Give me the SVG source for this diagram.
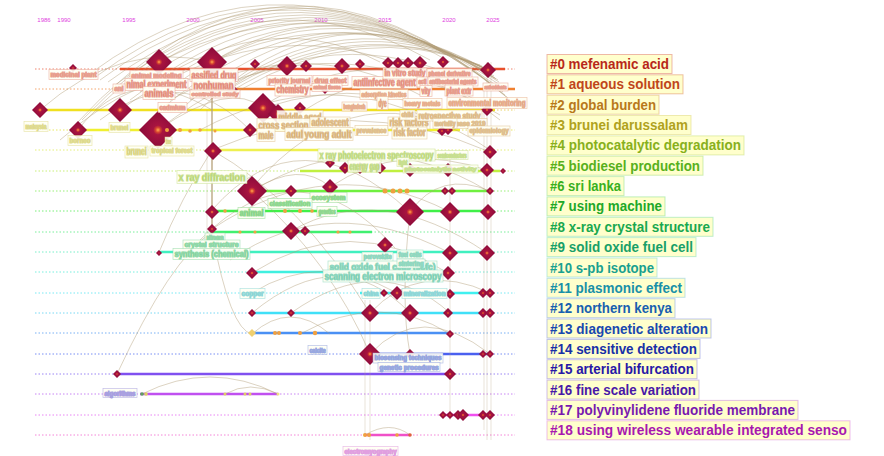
<svg xmlns="http://www.w3.org/2000/svg" width="884" height="456" viewBox="0 0 884 456">
<defs>
<radialGradient id="dg" cx="0.5" cy="0.5" r="0.5">
<stop offset="0" stop-color="#ffb050"/><stop offset="0.06" stop-color="#f07a40"/><stop offset="0.14" stop-color="#d04030"/><stop offset="0.25" stop-color="#a81440"/><stop offset="1" stop-color="#8a0a3a"/>
</radialGradient>
<path id="dm" d="M0,-1 L1,0 L0,1 L-1,0 Z" fill="url(#dg)"/>
</defs>
<style>
text{font-family:"Liberation Sans",Arial,sans-serif}
.arc{fill:none;stroke:#ae9a74;stroke-width:0.8;opacity:0.55}
.vl{stroke:#b8a47e;fill:none}
.dot{fill:none;stroke-width:1;stroke-dasharray:1.5 2;opacity:0.7}
.ln{stroke-width:2.4}
.lg rect{fill:#ffffcc;stroke-width:1;stroke-opacity:0.55}
.lg text{font-size:14px;font-weight:bold}
.lb rect{fill:#fffff4;fill-opacity:0.9;stroke-width:0.7;stroke-opacity:0.7}
.lb text{font-weight:bold}
.yr{font-size:6px;fill:#e040e0;text-anchor:middle}
.sn{fill:#f0a040}
</style>
<rect width="884" height="456" fill="#ffffff"/>
<g id="axis">
<text class="yr" x="44" y="22">1986</text><text class="yr" x="64" y="22">1990</text><text class="yr" x="129" y="22">1995</text><text class="yr" x="193" y="22">2000</text><text class="yr" x="257" y="22">2005</text><text class="yr" x="321" y="22">2010</text><text class="yr" x="385" y="22">2015</text><text class="yr" x="449" y="22">2020</text><text class="yr" x="493" y="22">2025</text>
</g>
<g id="rows">
<path class="dot" stroke="#e85030" d="M35,69H515"/>
<path class="dot" stroke="#f08030" d="M35,89H515"/>
<path class="dot" stroke="#e0c020" d="M35,110H515"/>
<path class="dot" stroke="#e0e020" d="M35,130H515"/>
<path class="dot" stroke="#d8e840" d="M35,150H515"/>
<path class="dot" stroke="#b0e840" d="M35,171H515"/>
<path class="dot" stroke="#70e840" d="M35,191H515"/>
<path class="dot" stroke="#40e840" d="M35,211H515"/>
<path class="dot" stroke="#40e870" d="M35,232H515"/>
<path class="dot" stroke="#40e8b0" d="M35,252H515"/>
<path class="dot" stroke="#40e8d0" d="M35,272H515"/>
<path class="dot" stroke="#40e0f0" d="M35,293H515"/>
<path class="dot" stroke="#40c8f0" d="M35,313H515"/>
<path class="dot" stroke="#4090f0" d="M35,333H515"/>
<path class="dot" stroke="#4060f0" d="M35,354H515"/>
<path class="dot" stroke="#7050f0" d="M35,374H515"/>
<path class="dot" stroke="#b050f0" d="M35,394H515"/>
<path class="dot" stroke="#e050f0" d="M35,415H515"/>
<path class="dot" stroke="#f050c8" d="M35,435H515"/>
<path class="ln" stroke="#e8502c" d="M120,69H505"/>
<path class="ln" stroke="#f08030" d="M200,89H515"/>
<path class="ln" stroke="#f0e020" d="M40,110H495"/>
<path class="ln" stroke="#f0f030" d="M78,130H460"/>
<path class="ln" stroke="#eef050" d="M212,150H320"/>
<path class="ln" stroke="#c0f040" d="M300,171H500"/>
<path class="ln" stroke="#70f040" d="M250,191H490"/>
<path class="ln" stroke="#40f048" d="M212,211H490"/>
<path class="ln" stroke="#40f070" d="M212,232H372"/>
<path class="ln" stroke="#40f0c0" d="M158,252H490"/>
<path class="ln" stroke="#40f0e0" d="M252,272H448"/>
<path class="ln" stroke="#40f0f0" d="M360,293H490"/>
<path class="ln" stroke="#40e0f8" d="M250,313H490"/>
<path class="ln" stroke="#4a90f4" d="M250,333H448"/>
<path class="ln" stroke="#4a60f0" d="M370,354H490"/>
<path class="ln" stroke="#8050f0" d="M117,374H448"/>
<path class="ln" stroke="#c050f0" stroke-width="1.6" d="M140,394H278"/>
<path class="ln" stroke="#f050f0" d="M443,415H490"/>
<path class="ln" stroke="#f050c8" stroke-width="1.6" d="M365,435H410"/>
</g>
<g id="connectors">
<path class="arc" d="M75,125 Q280,-100 510,100"/>
<path class="arc" d="M82,120 Q285,-92 508,98"/>
<path class="arc" d="M88,75 Q290,-75 505,95"/>
<path class="arc" d="M94,78 Q292,-70 503,92"/>
<path class="arc" d="M100,80 Q295,-65 500,90"/>
<path class="arc" d="M108,82 Q298,-60 500,88"/>
<path class="arc" d="M115,85 Q300,-55 500,85"/>
<path class="arc" d="M122,88 Q302,-50 499,82"/>
<path class="arc" d="M130,90 Q305,-45 498,80"/>
<path class="arc" d="M140,92 Q308,-40 496,79"/>
<path class="arc" d="M150,95 Q310,-35 495,78"/>
<path class="arc" d="M155,100 Q315,-30 494,76"/>
<path class="arc" d="M160,110 Q320,-25 492,75"/>
<path class="arc" d="M180,110 Q325,-22 491,74"/>
<path class="arc" d="M200,110 Q330,-20 490,72"/>
<path class="arc" d="M210,100 Q340,-5 488,70"/>
<path class="arc" d="M215,98 Q345,2 486,69"/>
<path class="arc" d="M220,95 Q350,10 485,68"/>
<path class="arc" d="M230,92 Q355,15 482,66"/>
<path class="arc" d="M240,90 Q360,20 480,65"/>
<path class="arc" d="M158,130 Q300,20 440,70"/>
<path class="arc" d="M120,110 Q260,10 400,65"/>
<path class="arc" d="M212,62 Q330,-10 450,62"/>
<path class="arc" d="M212,62 Q340,0 488,70"/>
<path class="arc" d="M159,62 Q320,-20 488,70"/>
<path class="arc" d="M260,108 Q380,30 490,110"/>
<path class="arc" d="M290,120 Q400,40 500,120"/>
<path class="arc" d="M95,110 Q250,-40 430,60"/>
<path class="arc" d="M130,100 Q260,0 380,62"/>
<path class="arc" d="M170,100 Q300,30 420,95"/>
<path class="arc" d="M190,100 Q340,20 500,115"/>
<path class="arc" d="M200,130 Q330,60 450,130"/>
<path class="arc" d="M263,108 Q380,70 470,130"/>
<path class="arc" d="M158,130 Q230,80 263,108"/>
<path class="arc" d="M100,120 Q180,60 250,130"/>
<path class="arc" d="M40,110 Q120,40 212,62"/>
<path class="arc" d="M78,130 Q130,60 212,110"/>
<path class="arc" d="M60,140 Q140,70 200,80"/>
<path class="arc" d="M250,190 Q360,60 490,150"/>
<path class="arc" d="M212,210 Q300,110 410,212"/>
<path class="arc" d="M252,191 Q370,120 488,191"/>
<path class="arc" d="M212,150 Q350,90 490,152"/>
<path class="arc" d="M212,229 Q330,150 450,212"/>
<path class="arc" d="M410,212 Q440,170 490,191"/>
<path class="arc" d="M252,191 Q300,160 330,187"/>
<path class="arc" d="M330,187 Q400,140 490,171"/>
<path class="arc" d="M291,231 Q380,180 487,253"/>
<path class="arc" d="M200,240 Q300,140 395,248"/>
<path class="arc" d="M230,260 Q330,190 450,253"/>
<path class="arc" d="M252,273 Q350,210 448,273"/>
<path class="arc" d="M370,313 Q420,260 490,293"/>
<path class="arc" d="M291,313 Q380,250 450,313"/>
<path class="arc" d="M252,313 Q340,240 410,313"/>
<path class="arc" d="M252,293 Q320,250 397,293"/>
<path class="arc" d="M370,354 Q420,300 490,354"/>
<path class="arc" d="M300,334 Q380,290 450,334"/>
<path class="arc" d="M252,334 Q290,300 330,334"/>
<path class="arc" d="M117,374 Q170,260 212,232"/>
<path class="arc" d="M212,232 Q230,330 252,334"/>
<path class="arc" d="M142,394 Q210,360 278,394"/>
<path class="arc" d="M225,394 Q250,380 278,394"/>
<path class="arc" d="M365,435 Q390,420 410,435"/>
<path class="arc" d="M160,250 Q180,200 212,150"/>
<path class="arc" d="M212,150 Q300,200 370,313"/>
<path class="arc" d="M252,191 Q330,260 370,354"/>
<path class="arc" d="M410,212 Q400,300 410,354"/>
<path class="vl" stroke-width="1.8" opacity="0.75" d="M212,62V258"/>
<path class="vl" stroke-width="0.6" opacity="0.5" d="M487,62V440M491,62V440M484,90V430M450,150V420M370,300V440M365,300V435M207,110V240"/>
</g>
<g id="cluster-0">
<use href="#dm" transform="translate(73,68) scale(4)"/>
<use href="#dm" transform="translate(159,62) scale(13)"/>
<use href="#dm" transform="translate(212,62) scale(15)"/>
<use href="#dm" transform="translate(255,64) scale(5)"/>
<use href="#dm" transform="translate(287,66) scale(10)"/>
<use href="#dm" transform="translate(306,66) scale(6)"/>
<use href="#dm" transform="translate(342,66) scale(8)"/>
<use href="#dm" transform="translate(360,64) scale(5)"/>
<use href="#dm" transform="translate(388,63) scale(6)"/>
<use href="#dm" transform="translate(398,63) scale(6)"/>
<use href="#dm" transform="translate(408,63) scale(6)"/>
<use href="#dm" transform="translate(420,63) scale(7)"/>
<use href="#dm" transform="translate(443,62) scale(6)"/>
<use href="#dm" transform="translate(488,70) scale(8)"/>
</g>
<g id="cluster-1">
<use href="#dm" transform="translate(232,90) scale(6)"/>
<use href="#dm" transform="translate(325,90) scale(4)"/>
</g>
<g id="cluster-2">
<use href="#dm" transform="translate(40,110) scale(8)"/>
<use href="#dm" transform="translate(120,110) scale(12)"/>
<use href="#dm" transform="translate(263,108) scale(15)"/>
<use href="#dm" transform="translate(278,114) scale(10)"/>
<use href="#dm" transform="translate(300,108) scale(6)"/>
<use href="#dm" transform="translate(487,110) scale(6)"/>
</g>
<g id="cluster-3">
<use href="#dm" transform="translate(78,130) scale(9)"/>
<use href="#dm" transform="translate(158,130) scale(19)"/>
<use href="#dm" transform="translate(250,130) scale(7)"/>
<use href="#dm" transform="translate(442,131) scale(5)"/>
<use href="#dm" transform="translate(448,130) scale(5)"/>
<circle class="sn" cx="167" cy="130" r="2"/><circle class="sn" cx="180" cy="130" r="2"/><circle class="sn" cx="190" cy="131" r="1.8"/><circle class="sn" cx="200" cy="130" r="1.8"/><circle class="sn" cx="215" cy="131" r="1.5"/>
</g>
<g id="cluster-4">
<use href="#dm" transform="translate(213,151) scale(9)"/>
<use href="#dm" transform="translate(490,152) scale(7)"/>
<use href="#dm" transform="translate(330,163) scale(5)"/>
</g>
<g id="cluster-5">
<use href="#dm" transform="translate(345,168) scale(6)"/>
<use href="#dm" transform="translate(360,168) scale(6)"/>
<use href="#dm" transform="translate(380,168) scale(6)"/>
<use href="#dm" transform="translate(410,170) scale(7)"/>
<use href="#dm" transform="translate(448,170) scale(7)"/>
<use href="#dm" transform="translate(487,170) scale(7)"/>
<use href="#dm" transform="translate(503,171) scale(3)"/>
</g>
<g id="cluster-6">
<use href="#dm" transform="translate(252,191) scale(15)"/>
<use href="#dm" transform="translate(291,191) scale(6)"/>
<use href="#dm" transform="translate(330,187) scale(8)"/>
<use href="#dm" transform="translate(445,191) scale(4)"/>
<use href="#dm" transform="translate(452,191) scale(4)"/>
<use href="#dm" transform="translate(490,191) scale(4)"/>
<circle class="sn" cx="385" cy="191" r="2.5"/><circle class="sn" cx="393" cy="191" r="2.5"/><circle class="sn" cx="400" cy="191" r="2.5"/><circle class="sn" cx="407" cy="191" r="2.5"/>
</g>
<g id="cluster-7">
<use href="#dm" transform="translate(212,212) scale(7)"/>
<use href="#dm" transform="translate(410,212) scale(14)"/>
<use href="#dm" transform="translate(450,212) scale(10)"/>
<use href="#dm" transform="translate(488,212) scale(8)"/>
<circle class="sn" cx="225" cy="211" r="1.8"/><circle class="sn" cx="285" cy="211" r="2"/><circle class="sn" cx="300" cy="211" r="2"/><circle class="sn" cx="312" cy="211" r="1.8"/>
</g>
<g id="cluster-8">
<use href="#dm" transform="translate(212,229) scale(5)"/>
<use href="#dm" transform="translate(291,231) scale(9)"/>
<use href="#dm" transform="translate(305,231) scale(5)"/>
<circle class="sn" cx="240" cy="232" r="1.6"/><circle class="sn" cx="255" cy="232" r="1.6"/><circle class="sn" cx="338" cy="232" r="1.6"/><circle class="sn" cx="350" cy="232" r="1.6"/>
</g>
<g id="cluster-9">
<use href="#dm" transform="translate(159,253) scale(3)"/>
<use href="#dm" transform="translate(385,245) scale(8)"/>
<use href="#dm" transform="translate(450,253) scale(8)"/>
<use href="#dm" transform="translate(487,253) scale(8)"/>
</g>
<g id="cluster-10">
<use href="#dm" transform="translate(252,273) scale(6)"/>
<use href="#dm" transform="translate(448,273) scale(7)"/>
</g>
<g id="cluster-11">
<use href="#dm" transform="translate(384,293) scale(4)"/>
<use href="#dm" transform="translate(397,293) scale(7)"/>
<use href="#dm" transform="translate(450,294) scale(5)"/>
<use href="#dm" transform="translate(483,293) scale(5)"/>
<use href="#dm" transform="translate(490,293) scale(5)"/>
</g>
<g id="cluster-12">
<use href="#dm" transform="translate(252,313) scale(4)"/>
<use href="#dm" transform="translate(291,313) scale(4)"/>
<use href="#dm" transform="translate(370,313) scale(9)"/>
<use href="#dm" transform="translate(410,313) scale(9)"/>
<use href="#dm" transform="translate(448,313) scale(5)"/>
<use href="#dm" transform="translate(483,313) scale(5)"/>
<use href="#dm" transform="translate(490,313) scale(5)"/>
</g>
<g id="cluster-13">
<path d="M252,329 L256,333 L252,337 L248,333Z" fill="#f0d070"/>
<circle class="sn" cx="275" cy="333" r="2"/><circle class="sn" cx="279" cy="333" r="2"/><circle class="sn" cx="300" cy="333" r="2"/><circle class="sn" cx="315" cy="333" r="2.2"/>
<use href="#dm" transform="translate(450,334) scale(4)"/>
</g>
<g id="cluster-14">
<use href="#dm" transform="translate(370,354) scale(11)"/>
<use href="#dm" transform="translate(410,354) scale(5)"/>
<use href="#dm" transform="translate(483,354) scale(4)"/>
<use href="#dm" transform="translate(490,354) scale(4)"/>
</g>
<g id="cluster-15">
<use href="#dm" transform="translate(117,374) scale(4)"/>
<use href="#dm" transform="translate(450,374) scale(6)"/>
</g>
<g id="cluster-16">
<circle cx="142" cy="394" r="1.8" fill="#60a060"/><circle cx="146" cy="394" r="1.8" fill="#e0d060"/><circle cx="225" cy="394" r="1.5" fill="#e0d060"/><circle cx="245" cy="394" r="1.5" fill="#e0d060"/><circle cx="250" cy="394" r="1.5" fill="#e0d060"/><circle cx="278" cy="394" r="1.5" fill="#f0e080"/>
</g>
<g id="cluster-17">
<use href="#dm" transform="translate(443,415) scale(4)"/>
<use href="#dm" transform="translate(450,415) scale(4)"/>
<use href="#dm" transform="translate(458,415) scale(5)"/>
<use href="#dm" transform="translate(463,415) scale(6)"/>
<use href="#dm" transform="translate(483,415) scale(5)"/>
<use href="#dm" transform="translate(490,415) scale(5)"/>
</g>
<g id="cluster-18">
<circle class="sn" cx="365" cy="435" r="2"/><circle class="sn" cx="369" cy="435" r="2"/><circle class="sn" cx="397" cy="435" r="1.8"/><circle cx="410" cy="435" r="1.8" fill="#e06040"/>
</g>
<g id="labels">
<g class="lb" fill="#c8321e" stroke="#e8a090">
<rect x="49" y="69.5" width="49" height="10"/><text x="50.5" y="76.8" font-size="8" textLength="46" lengthAdjust="spacingAndGlyphs">medicinal plant</text>
<rect x="130" y="70.5" width="53" height="10"/><text x="131.5" y="77.8" font-size="8" textLength="50" lengthAdjust="spacingAndGlyphs">animal modeling</text>
<rect x="190" y="68.5" width="48" height="13"/><text x="191.5" y="78.8" font-size="11" textLength="45" lengthAdjust="spacingAndGlyphs">assified drug</text>
<rect x="125" y="78.5" width="63" height="12"/><text x="126.5" y="87.5" font-size="10" textLength="60" lengthAdjust="spacingAndGlyphs">nimal experiment</text>
<rect x="113" y="84" width="12" height="9"/><text x="114.5" y="90.5" font-size="7" textLength="9" lengthAdjust="spacingAndGlyphs">ani</text>
<rect x="192" y="78.5" width="43" height="13"/><text x="193.5" y="88.8" font-size="11" textLength="40" lengthAdjust="spacingAndGlyphs">nonhuman</text>
<rect x="190" y="90" width="50" height="8"/><text x="191.5" y="96" font-size="6" textLength="47" lengthAdjust="spacingAndGlyphs">controlled study</text>
<rect x="143" y="86.5" width="32" height="13"/><text x="144.5" y="96.8" font-size="11" textLength="29" lengthAdjust="spacingAndGlyphs">animals</text>
<rect x="158" y="102.5" width="29" height="10"/><text x="159.5" y="109.8" font-size="8" textLength="26" lengthAdjust="spacingAndGlyphs">cadmium</text>
<rect x="267" y="75.5" width="45" height="10"/><text x="268.5" y="82.8" font-size="8" textLength="42" lengthAdjust="spacingAndGlyphs">priority journal</text>
<rect x="313" y="75.5" width="35" height="10"/><text x="314.5" y="82.8" font-size="8" textLength="32" lengthAdjust="spacingAndGlyphs">drug effect</text>
<rect x="312" y="83.5" width="30" height="8"/><text x="313.5" y="89.1" font-size="6" textLength="27" lengthAdjust="spacingAndGlyphs">animal tissue</text>
<rect x="275" y="84" width="35" height="12"/><text x="276.5" y="93" font-size="10" textLength="32" lengthAdjust="spacingAndGlyphs">chemistry</text>
<rect x="352" y="76.5" width="65" height="12"/><text x="353.5" y="85.5" font-size="10" textLength="62" lengthAdjust="spacingAndGlyphs">antiinfective agent</text>
<rect x="383" y="68" width="44" height="11"/><text x="384.5" y="76.2" font-size="9" textLength="41" lengthAdjust="spacingAndGlyphs">in vitro study</text>
<rect x="427" y="68.5" width="45" height="10"/><text x="428.5" y="75.8" font-size="8" textLength="42" lengthAdjust="spacingAndGlyphs">phenol derivative</text>
<rect x="417" y="77" width="11" height="10"/><text x="418.5" y="84.3" font-size="8" textLength="8" lengthAdjust="spacingAndGlyphs">acti</text>
<rect x="428" y="77" width="50" height="9"/><text x="429.5" y="84" font-size="7" textLength="47" lengthAdjust="spacingAndGlyphs">antibacterial agents</text>
<rect x="420" y="85.5" width="12" height="11"/><text x="421.5" y="94.2" font-size="9" textLength="9" lengthAdjust="spacingAndGlyphs">vity</text>
<rect x="445" y="85" width="28" height="11"/><text x="446.5" y="93.7" font-size="9" textLength="25" lengthAdjust="spacingAndGlyphs">plant extr</text>
<rect x="483" y="83" width="25" height="8"/><text x="484.5" y="89.1" font-size="6" textLength="22" lengthAdjust="spacingAndGlyphs">antioxidants</text>
</g>
<g class="lb" fill="#c0561e" stroke="#e8b090">
<rect x="360" y="89.5" width="48" height="10"/><text x="361.5" y="96.8" font-size="8" textLength="45" lengthAdjust="spacingAndGlyphs">adsorption kinetics</text>
<rect x="377" y="96.5" width="11" height="13"/><text x="378.5" y="106.8" font-size="11" textLength="8" lengthAdjust="spacingAndGlyphs">dye</text>
<rect x="403" y="98.5" width="39" height="10"/><text x="404.5" y="105.8" font-size="8" textLength="36" lengthAdjust="spacingAndGlyphs">heavy metals</text>
<rect x="447" y="97.5" width="80" height="11"/><text x="448.5" y="106.2" font-size="9" textLength="77" lengthAdjust="spacingAndGlyphs">environmental monitoring</text>
<rect x="342" y="102" width="25" height="9"/><text x="343.5" y="108.5" font-size="7" textLength="22" lengthAdjust="spacingAndGlyphs">bangladesh</text>
</g>
<g class="lb" fill="#b87a20" stroke="#e0c090">
<rect x="277" y="110.5" width="46" height="13"/><text x="278.5" y="120.8" font-size="11" textLength="43" lengthAdjust="spacingAndGlyphs">middle aged</text>
<rect x="257" y="118.5" width="53" height="13"/><text x="258.5" y="128.8" font-size="11" textLength="50" lengthAdjust="spacingAndGlyphs">cross section</text>
<rect x="257" y="128.5" width="18" height="13"/><text x="258.5" y="138.8" font-size="11" textLength="15" lengthAdjust="spacingAndGlyphs">male</text>
<rect x="285" y="127.5" width="22" height="13"/><text x="286.5" y="137.8" font-size="11" textLength="19" lengthAdjust="spacingAndGlyphs">adult</text>
<rect x="310" y="117" width="40" height="12"/><text x="311.5" y="126" font-size="10" textLength="37" lengthAdjust="spacingAndGlyphs">adolescent</text>
<rect x="303" y="127.5" width="50" height="13"/><text x="304.5" y="137.8" font-size="11" textLength="47" lengthAdjust="spacingAndGlyphs">young adult</text>
<rect x="355" y="125.5" width="33" height="10"/><text x="356.5" y="132.8" font-size="8" textLength="30" lengthAdjust="spacingAndGlyphs">prevalence</text>
<rect x="388" y="117" width="42" height="12"/><text x="389.5" y="126" font-size="10" textLength="39" lengthAdjust="spacingAndGlyphs">risk factors</text>
<rect x="392" y="127" width="35" height="12"/><text x="393.5" y="136" font-size="10" textLength="32" lengthAdjust="spacingAndGlyphs">risk factor</text>
<rect x="400" y="110" width="15" height="10"/><text x="401.5" y="117.3" font-size="8" textLength="12" lengthAdjust="spacingAndGlyphs">child</text>
<rect x="417" y="110" width="65" height="11"/><text x="418.5" y="118.7" font-size="9" textLength="62" lengthAdjust="spacingAndGlyphs">retrospective study</text>
<rect x="445" y="118.5" width="42" height="10"/><text x="446.5" y="125.8" font-size="8" textLength="39" lengthAdjust="spacingAndGlyphs">disease 2019</text>
<rect x="433" y="118.5" width="24" height="10"/><text x="434.5" y="125.8" font-size="8" textLength="21" lengthAdjust="spacingAndGlyphs">mortality</text>
<rect x="468" y="126" width="42" height="10"/><text x="469.5" y="133.3" font-size="8" textLength="39" lengthAdjust="spacingAndGlyphs">epidemiology</text>
</g>
<g class="lb" fill="#a8a020" stroke="#e0dc90">
<rect x="24" y="121.5" width="24" height="10"/><text x="25.5" y="128.8" font-size="8" textLength="21" lengthAdjust="spacingAndGlyphs">malaysia</text>
<rect x="109" y="122.5" width="21" height="10"/><text x="110.5" y="129.8" font-size="8" textLength="18" lengthAdjust="spacingAndGlyphs">brunei</text>
<rect x="68" y="135.5" width="24" height="10"/><text x="69.5" y="142.8" font-size="8" textLength="21" lengthAdjust="spacingAndGlyphs">borneo</text>
<rect x="125" y="146" width="23" height="12"/><text x="126.5" y="155" font-size="10" textLength="20" lengthAdjust="spacingAndGlyphs">brunei</text>
<rect x="165" y="137" width="7" height="9"/><text x="166" y="143.5" font-size="7" textLength="5" lengthAdjust="spacingAndGlyphs">tree</text>
<rect x="150" y="146" width="44" height="10"/><text x="151.5" y="153.3" font-size="8" textLength="41" lengthAdjust="spacingAndGlyphs">tropical forest</text>
</g>
<g class="lb" fill="#88b020" stroke="#c8e090">
<rect x="318" y="149" width="117" height="12"/><text x="319.5" y="158.5" font-size="10" textLength="114" lengthAdjust="spacingAndGlyphs">x ray photoelectron spectroscopy</text>
<rect x="436" y="150.5" width="32" height="9"/><text x="437.5" y="157.5" font-size="7" textLength="29" lengthAdjust="spacingAndGlyphs">semiconductors</text>
<rect x="348" y="160" width="33" height="12"/><text x="349.5" y="169.5" font-size="10" textLength="30" lengthAdjust="spacingAndGlyphs">energy gap</text>
<rect x="397" y="157.5" width="12" height="9"/><text x="398.5" y="164.5" font-size="7" textLength="9" lengthAdjust="spacingAndGlyphs">light</text>
<rect x="403" y="165" width="75" height="8"/><text x="404.5" y="171.1" font-size="6" textLength="72" lengthAdjust="spacingAndGlyphs">photocatalytic activity</text>
<rect x="177" y="170.5" width="70" height="13"/><text x="178.5" y="180.8" font-size="11" textLength="67" lengthAdjust="spacingAndGlyphs">x ray diffraction</text>
</g>
<g class="lb" fill="#30a838" stroke="#90d890">
<rect x="310" y="192.5" width="37" height="10"/><text x="311.5" y="199.8" font-size="8" textLength="34" lengthAdjust="spacingAndGlyphs">ecosystem</text>
<rect x="268" y="198.5" width="44" height="10"/><text x="269.5" y="205.8" font-size="8" textLength="41" lengthAdjust="spacingAndGlyphs">classification</text>
<rect x="238" y="207.5" width="27" height="11"/><text x="239.5" y="216.2" font-size="9" textLength="24" lengthAdjust="spacingAndGlyphs">animal</text>
<rect x="317" y="206.5" width="20" height="10"/><text x="318.5" y="213.8" font-size="8" textLength="17" lengthAdjust="spacingAndGlyphs">genetics</text>
</g>
<g class="lb" fill="#20a850" stroke="#90d8a8">
<rect x="205" y="233" width="20" height="9"/><text x="206.5" y="240" font-size="7" textLength="17" lengthAdjust="spacingAndGlyphs">nitrogen</text>
<rect x="183" y="240" width="57" height="10"/><text x="184.5" y="247.3" font-size="8" textLength="54" lengthAdjust="spacingAndGlyphs">crystal structure</text>
<rect x="173" y="248.5" width="77" height="11"/><text x="174.5" y="257.2" font-size="9" textLength="74" lengthAdjust="spacingAndGlyphs">synthesis (chemical)</text>
</g>
<g class="lb" fill="#20a070" stroke="#90d8c0">
<rect x="362" y="252" width="31" height="10"/><text x="363.5" y="259.3" font-size="8" textLength="28" lengthAdjust="spacingAndGlyphs">perovskite</text>
<rect x="328" y="261" width="109" height="11"/><text x="329.5" y="269.7" font-size="9" textLength="106" lengthAdjust="spacingAndGlyphs">solid oxide fuel cells (sofc)</text>
<rect x="397" y="250" width="26" height="9"/><text x="398.5" y="257" font-size="7" textLength="23" lengthAdjust="spacingAndGlyphs">fuel cells</text>
<rect x="397" y="259" width="28" height="9"/><text x="398.5" y="266" font-size="7" textLength="25" lengthAdjust="spacingAndGlyphs">sintering</text>
<rect x="323" y="270" width="120" height="12"/><text x="324.5" y="279.5" font-size="10" textLength="117" lengthAdjust="spacingAndGlyphs">scanning electron microscopy</text>
</g>
<g class="lb" fill="#20a0a0" stroke="#90d8d8">
<rect x="240" y="288.5" width="25" height="10"/><text x="241.5" y="295.8" font-size="8" textLength="22" lengthAdjust="spacingAndGlyphs">copper</text>
<rect x="362" y="288.5" width="18" height="10"/><text x="363.5" y="295.8" font-size="8" textLength="15" lengthAdjust="spacingAndGlyphs">china</text>
<rect x="402" y="288.5" width="45" height="10"/><text x="403.5" y="295.8" font-size="8" textLength="42" lengthAdjust="spacingAndGlyphs">mineralization</text>
</g>
<g class="lb" fill="#2040b8" stroke="#98a8e0">
<rect x="308" y="345.5" width="19" height="9"/><text x="309.5" y="352.5" font-size="7" textLength="16" lengthAdjust="spacingAndGlyphs">calcite</text>
<rect x="373" y="353" width="70" height="10"/><text x="374.5" y="360.3" font-size="8" textLength="67" lengthAdjust="spacingAndGlyphs">biosensing techniques</text>
<rect x="378" y="362.5" width="62" height="9"/><text x="379.5" y="369.5" font-size="7" textLength="59" lengthAdjust="spacingAndGlyphs">genetic procedures</text>
</g>
<g class="lb" fill="#4030c0" stroke="#a8a0e0">
<rect x="103" y="388.5" width="34" height="9"/><text x="104.5" y="395.5" font-size="7" textLength="31" lengthAdjust="spacingAndGlyphs">algorithms</text>
</g>
<g class="lb" fill="#c020b0" stroke="#e0a0e0">
<rect x="343" y="446.5" width="55" height="9"/><text x="344.5" y="453.5" font-size="7" textLength="52" lengthAdjust="spacingAndGlyphs">electromyography</text>
</g>
</g>
<g id="legend">
<g class="lg" id="lg0"><rect x="547" y="54.5" width="125" height="19" stroke="#e08070"/><text x="550" y="69" fill="#b8281a" textLength="119" lengthAdjust="spacingAndGlyphs">#0 mefenamic acid</text></g>
<g class="lg" id="lg1"><rect x="547" y="74.8" width="136" height="19" stroke="#e09060"/><text x="550" y="89.3" fill="#c0461a" textLength="130" lengthAdjust="spacingAndGlyphs">#1 aqueous solution</text></g>
<g class="lg" id="lg2"><rect x="547" y="95.2" width="112" height="19" stroke="#e0b070"/><text x="550" y="109.7" fill="#b8781a" textLength="106" lengthAdjust="spacingAndGlyphs">#2 global burden</text></g>
<g class="lg" id="lg3"><rect x="547" y="115.5" width="144" height="19" stroke="#e0d880"/><text x="550" y="130" fill="#b0a21c" textLength="138" lengthAdjust="spacingAndGlyphs">#3 brunei darussalam</text></g>
<g class="lg" id="lg4"><rect x="547" y="135.9" width="197" height="19" stroke="#c8e080"/><text x="550" y="150.4" fill="#88b01c" textLength="191" lengthAdjust="spacingAndGlyphs">#4 photocatalytic degradation</text></g>
<g class="lg" id="lg5"><rect x="547" y="156.2" width="156" height="19" stroke="#a8e080"/><text x="550" y="170.7" fill="#58b01c" textLength="150" lengthAdjust="spacingAndGlyphs">#5 biodiesel production</text></g>
<g class="lg" id="lg6"><rect x="547" y="176.6" width="77" height="19" stroke="#98e090"/><text x="550" y="191.1" fill="#38b020" textLength="71" lengthAdjust="spacingAndGlyphs">#6 sri lanka</text></g>
<g class="lg" id="lg7"><rect x="547" y="196.9" width="118" height="19" stroke="#88e090"/><text x="550" y="211.4" fill="#20a828" textLength="112" lengthAdjust="spacingAndGlyphs">#7 using machine</text></g>
<g class="lg" id="lg8"><rect x="547" y="217.3" width="166" height="19" stroke="#88e0a8"/><text x="550" y="231.8" fill="#18a850" textLength="160" lengthAdjust="spacingAndGlyphs">#8 x-ray crystal structure</text></g>
<g class="lg" id="lg9"><rect x="547" y="237.6" width="149" height="19" stroke="#88e0b8"/><text x="550" y="252.1" fill="#18a068" textLength="143" lengthAdjust="spacingAndGlyphs">#9 solid oxide fuel cell</text></g>
<g class="lg" id="lg10"><rect x="547" y="258" width="110" height="19" stroke="#88d8d0"/><text x="550" y="272.5" fill="#18a090" textLength="104" lengthAdjust="spacingAndGlyphs">#10 s-pb isotope</text></g>
<g class="lg" id="lg11"><rect x="547" y="278.3" width="138" height="19" stroke="#88c8e0"/><text x="550" y="292.8" fill="#1890a8" textLength="132" lengthAdjust="spacingAndGlyphs">#11 plasmonic effect</text></g>
<g class="lg" id="lg12"><rect x="547" y="298.7" width="128" height="19" stroke="#88a8e0"/><text x="550" y="313.2" fill="#1860b0" textLength="122" lengthAdjust="spacingAndGlyphs">#12 northern kenya</text></g>
<g class="lg" id="lg13"><rect x="547" y="319" width="164" height="19" stroke="#8898e0"/><text x="550" y="333.5" fill="#1848b0" textLength="158" lengthAdjust="spacingAndGlyphs">#13 diagenetic alteration</text></g>
<g class="lg" id="lg14"><rect x="547" y="339.4" width="153" height="19" stroke="#8890e0"/><text x="550" y="353.9" fill="#1830a8" textLength="147" lengthAdjust="spacingAndGlyphs">#14 sensitive detection</text></g>
<g class="lg" id="lg15"><rect x="547" y="359.7" width="150" height="19" stroke="#9888e0"/><text x="550" y="374.2" fill="#2818a8" textLength="144" lengthAdjust="spacingAndGlyphs">#15 arterial bifurcation</text></g>
<g class="lg" id="lg16"><rect x="547" y="380.1" width="152" height="19" stroke="#a888e0"/><text x="550" y="394.6" fill="#4818a8" textLength="146" lengthAdjust="spacingAndGlyphs">#16 fine scale variation</text></g>
<g class="lg" id="lg17"><rect x="547" y="400.4" width="251" height="19" stroke="#c888e0"/><text x="550" y="414.9" fill="#7818b0" textLength="245" lengthAdjust="spacingAndGlyphs">#17 polyvinylidene fluoride membrane</text></g>
<g class="lg" id="lg18"><rect x="547" y="420.8" width="303" height="19" stroke="#e088e0"/><text x="550" y="435.3" fill="#a818b0" textLength="297" lengthAdjust="spacingAndGlyphs">#18 using wireless wearable integrated senso</text></g>
</g>
</svg>
